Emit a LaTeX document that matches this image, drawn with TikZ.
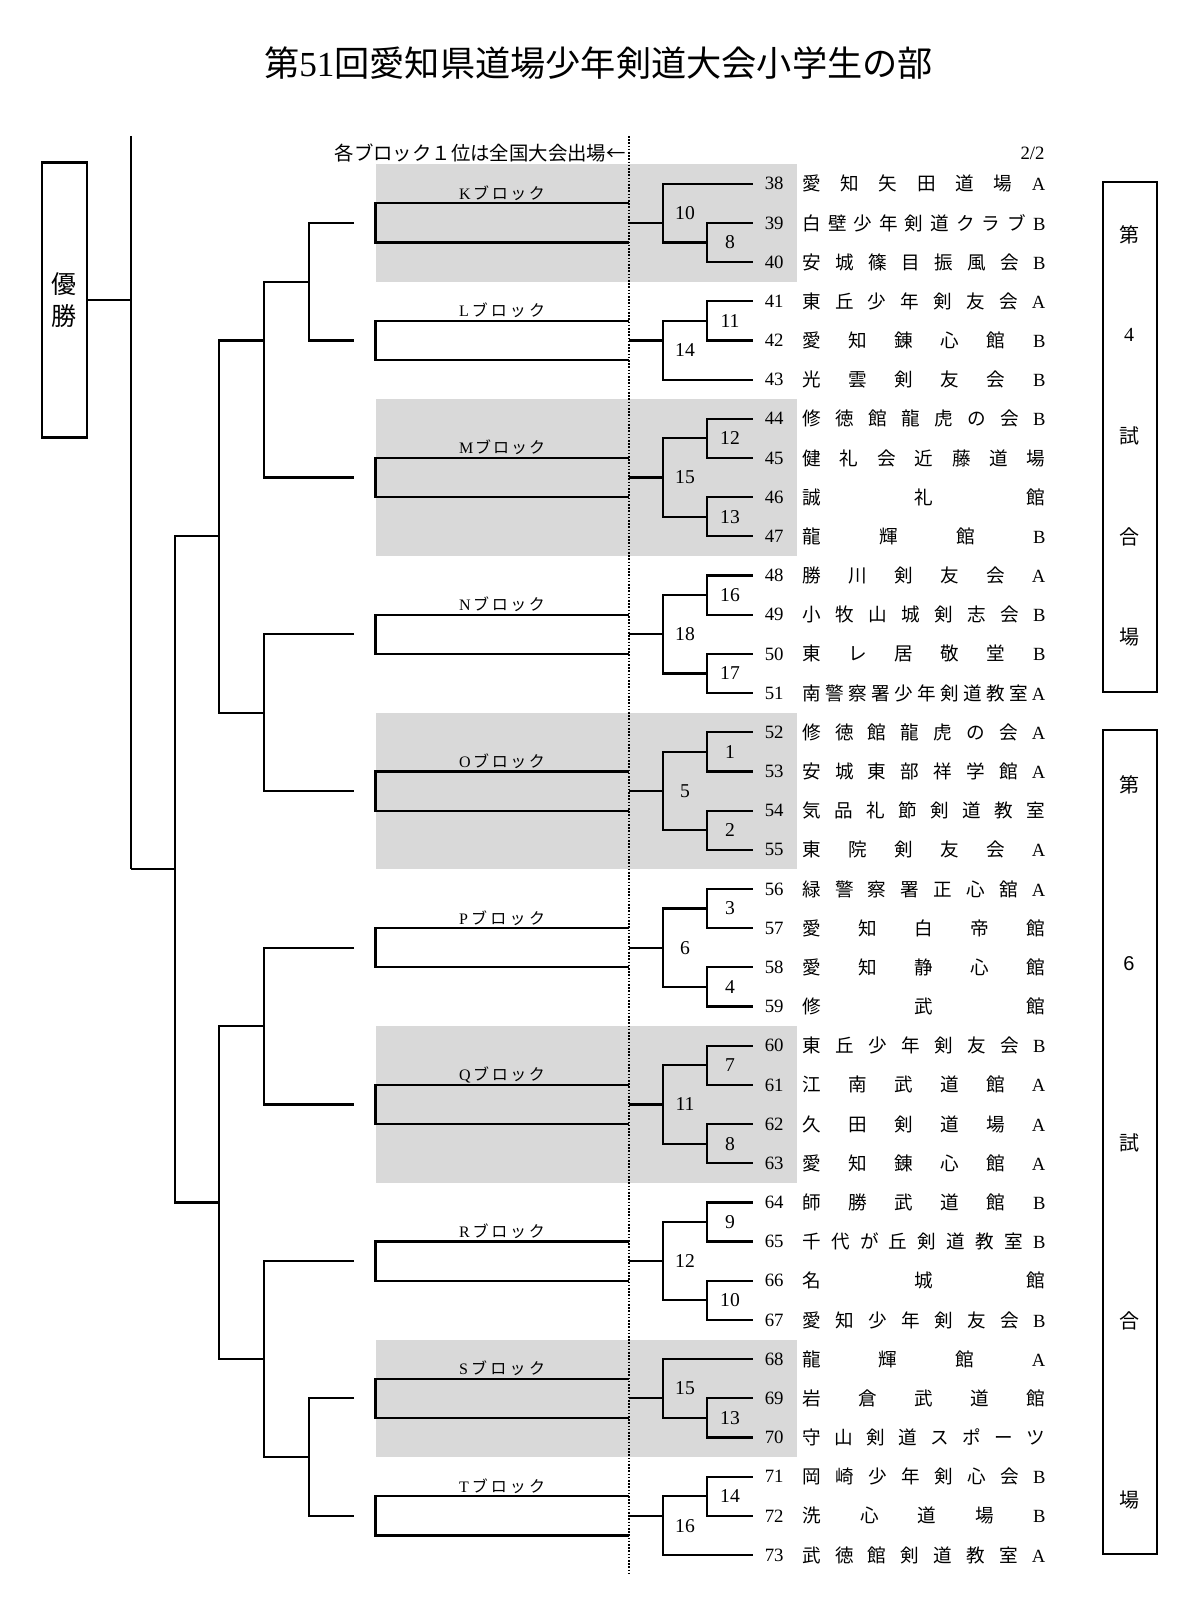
\documentclass[tikz,border=0pt]{standalone}
\usepackage{fontspec}
\setmainfont{Liberation Serif}
\setsansfont{Liberation Sans}
\newfontfamily\jpf{Noto Sans CJK JP}
\usepackage{tikz}
\usetikzlibrary{positioning, calc}
\usepackage{xcolor}
\definecolor{blockgray}{RGB}{217, 217, 217}

\newlength\namew
\setlength\namew{121.5pt}
\makeatletter
\def\sn@none{-}
\newcommand\spreadname[2]{%
  \edef\sn@list{#1}\edef\sn@sfx{#2}%
  \hbox to \namew{\jpf\let\sn@sep\relax
    \expandafter\@tfor\expandafter\sn@c\expandafter:\expandafter=\sn@list\do{\sn@sep\sn@c\let\sn@sep\hfill}%
    \ifx\sn@sfx\sn@none\else\hfill{\rmfamily\sn@sfx}\fi}}
\makeatother

\begin{document}
\begin{tikzpicture}[x=0.5pt, y=-19.59pt,
  bracket/.style={line width=1.1pt},
  dotline/.style={line width=1pt, dash pattern=on 0.8pt off 0.8pt},
  teamno/.style={anchor=east, inner sep=0pt, font=\fontsize{9.4pt}{10pt}\selectfont},
  teamname/.style={anchor=west, inner sep=0pt, font=\fontsize{9.3pt}{11pt}\selectfont},
  matchno/.style={inner sep=0pt, font=\fontsize{9.8pt}{11pt}\selectfont},
  blocklbl/.style={anchor=base, inner sep=0pt, yshift=2pt, font=\fontsize{8pt}{9pt}\selectfont},
  courtbox/.style={draw, line width=1.1pt, minimum width=27pt},
  courtch/.style={inner sep=0pt, font=\jpf\fontsize{10pt}{12pt}\selectfont}]
  \useasboundingbox (0,-4.689) rectangle (1200,36.148);

  % Heading
  \node[font=\jpf\fontsize{17.6pt}{20pt}\selectfont] (title) at (598.5,-3.073)
        {第{\rmfamily 51}回愛知県道場少年剣道大会小学生の部};
  \node[anchor=east, inner sep=0pt, font=\jpf\fontsize{9.7pt}{11pt}\selectfont] (note)
        at (626,-0.784) {各ブロック１位は全国大会出場←};
  \node[anchor=east, inner sep=0pt, font=\fontsize{9.4pt}{10pt}\selectfont] (page)
        at (1045,-0.784) {2/2};

  % Shaded blocks
  \foreach \ya/\yb in {-0.5/2.5, 5.5/9.5, 13.5/17.5, 21.5/25.5, 29.5/32.5}
    \fill[blockgray] (375.5,\ya) rectangle (797,\yb);
  \draw[dotline] (628.6,-1.22) coordinate (dtop) -- (628.6,35.46) coordinate (dbot);

  % Champion and trunk
  \node[draw, line width=1.1pt, minimum width=22.5pt, minimum height=137.5pt, align=center,
        font=\jpf\fontsize{12.5pt}{16pt}\selectfont] (champ) at (64.2,2.97) {優\\勝};
  \coordinate (ttop) at (130.7,-1.22);
  \coordinate (tbot) at (130.7,17.5);
  \draw[bracket] (ttop) -- (tbot);
  \draw[bracket] (champ.east) -- (champ.east -| ttop);

  % Block brackets
  \foreach \blk/\wy in {K/1, L/4, M/7.5, N/11.5, O/15.5, P/19.5, Q/23.5, R/27.5, S/31, T/34}{
    \coordinate (in\blk) at (354,\wy);
    \coordinate (e\blk) at (628.6,\wy);
    \draw[bracket] (628.6,{\wy-0.5}) -| (375.5,{\wy+0.5}) -- (628.6,{\wy+0.5});
    \node[blocklbl] (lbl\blk) at (502,{\wy-0.5})
          {\hbox to 43pt{\rmfamily\blk\hfill\jpf ブ\hfill ロ\hfill ッ\hfill ク}};
  }

  % Tree to the final
  \coordinate (jKL) at (309,2.5);
  \coordinate (jKLM) at (264,4);
  \coordinate (jNO) at (264,13.5);
  \coordinate (jUp) at (219,9);
  \coordinate (jPQ) at (264,21.5);
  \coordinate (jST) at (309,32.5);
  \coordinate (jRST) at (264,30);
  \coordinate (jLow) at (219,26);
  \coordinate (jAll) at (175,17.5);
  \foreach \ta/\j/\tb in {inK/jKL/inL, jKL/jKLM/inM, inN/jNO/inO, jKLM/jUp/jNO, inP/jPQ/inQ,
                          inS/jST/inT, inR/jRST/jST, jPQ/jLow/jRST, jUp/jAll/jLow}
    \draw[bracket] (\ta) -| (\j) |- (\tb);
  \draw[bracket] (jAll) -- (tbot);

  % Teams
  \foreach \n/\nm/\sx [count=\rw from 0] in {38/愛知矢田道場/A, 39/白壁少年剣道クラブ/B,
      40/安城篠目振風会/B, 41/東丘少年剣友会/A, 42/愛知錬心館/B, 43/光雲剣友会/B,
      44/修徳館龍虎の会/B, 45/健礼会近藤道場/-, 46/誠礼館/-, 47/龍輝館/B,
      48/勝川剣友会/A, 49/小牧山城剣志会/B, 50/東レ居敬堂/B, 51/南警察署少年剣道教室/A,
      52/修徳館龍虎の会/A, 53/安城東部祥学館/A, 54/気品礼節剣道教室/-, 55/東院剣友会/A,
      56/緑警察署正心舘/A, 57/愛知白帝館/-, 58/愛知静心館/-, 59/修武館/-,
      60/東丘少年剣友会/B, 61/江南武道館/A, 62/久田剣道場/A, 63/愛知錬心館/A,
      64/師勝武道館/B, 65/千代が丘剣道教室/B, 66/名城館/-, 67/愛知少年剣友会/B,
      68/龍輝館/A, 69/岩倉武道館/-, 70/守山剣道スポーツ/-,
      71/岡崎少年剣心会/B, 72/洗心道場/B, 73/武徳館剣道教室/A}{
    \coordinate (t\n) at (752.7,\rw);
    \node[teamno] (no\n) at (784,\rw) {\n};
    \node[teamname] (tm\n) at (802,\rw) {\spreadname{\nm}{\sx}};
  }

  % First round
  \foreach \lab/\ta/\tb/\rw in {8/39/40/1, 11/41/42/3, 12/44/45/6, 13/46/47/8, 16/48/49/10,
      17/50/51/12, 1/52/53/14, 2/54/55/16, 3/56/57/18, 4/58/59/20, 7/60/61/22, 8/62/63/24,
      9/64/65/26, 10/66/67/28, 13/69/70/31, 14/71/72/33}{
    \coordinate (p\ta) at (707.3,{\rw+0.5});
    \draw[bracket] (t\ta) -| (p\ta) |- (t\tb);
    \node[matchno] (m\ta) at (730,{\rw+0.5}) {\lab};
  }

  % Block finals
  \foreach \blk/\lab/\ca/\cb/\wy/\ly in {K/10/t38/p39/1/0.75, L/14/p41/t43/4/4.25,
      M/15/p44/p46/7.5/7.5, N/18/p48/p50/11.5/11.5, O/5/p52/p54/15.5/15.5,
      P/6/p56/p58/19.5/19.5, Q/11/p60/p62/23.5/23.5, R/12/p64/p66/27.5/27.5,
      S/15/t68/p69/31/30.75, T/16/p71/t73/34/34.25}{
    \coordinate (w\blk) at (662.7,\wy);
    \draw[bracket] (\ca) -| (w\blk) |- (\cb);
    \draw[bracket] (w\blk) -- (e\blk);
    \node[matchno] (f\blk) at (685,\ly) {\lab};
  }

  % Courts
  \node[courtbox, minimum height=255.1pt] (court4) at (1129.7,6.457) {};
  \foreach \ch [count=\k from 0] in {第,{\rmfamily 4},試,合,場}
    \node[courtch] (ca\k) at (1129,{1.30+2.57*\k}) {\ch};
  \node[courtbox, minimum height=411.7pt] (court6) at (1129.7,24.46) {};
  \foreach \ch [count=\k from 0] in {第,{\sffamily 6},試,合,場}
    \node[courtch] (cb\k) at (1129,{15.34+4.565*\k}) {\ch};
\end{tikzpicture}
\end{document}
